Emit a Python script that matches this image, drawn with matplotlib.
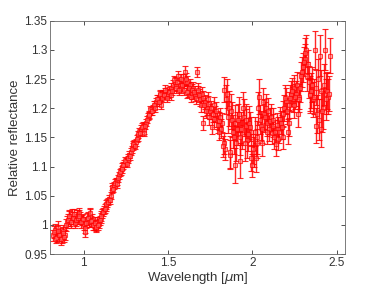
import matplotlib
matplotlib.use("Agg")
import matplotlib.pyplot as plt
import numpy as np

plt.rcParams['font.family'] = ['Liberation Sans', 'DejaVu Sans']

wavelength = [
    0.82, 0.83, 0.84, 0.85, 0.86, 0.87, 0.88, 0.89, 0.90, 0.91,
    0.92, 0.93, 0.94, 0.95, 0.96, 0.97, 0.98, 0.99, 1.00, 1.01,
    1.02, 1.03, 1.04, 1.05, 1.06, 1.07, 1.08, 1.09, 1.10, 1.11,
    1.12, 1.13, 1.14, 1.15, 1.16, 1.17, 1.18, 1.19, 1.20, 1.21,
    1.22, 1.23, 1.24, 1.25, 1.26, 1.27, 1.28, 1.29, 1.30, 1.31,
    1.32, 1.33, 1.34, 1.35, 1.36, 1.37, 1.38, 1.39, 1.40, 1.41,
    1.42, 1.43, 1.44, 1.45, 1.46, 1.47, 1.48, 1.49, 1.50, 1.51,
    1.52, 1.53, 1.54, 1.55, 1.56, 1.57, 1.58, 1.59, 1.60, 1.61,
    1.62, 1.63, 1.64, 1.65, 1.66, 1.67, 1.68, 1.69, 1.70, 1.71,
    1.72, 1.73, 1.74, 1.75, 1.76, 1.77, 1.78, 1.79, 1.80, 1.81,
    1.82, 1.83, 1.84, 1.85, 1.86, 1.87, 1.88, 1.89, 1.90, 1.91,
    1.92, 1.93, 1.94, 1.95, 1.96, 1.97, 1.98, 1.99, 2.00, 2.01,
    2.02, 2.03, 2.04, 2.05, 2.06, 2.07, 2.08, 2.09, 2.10, 2.11,
    2.12, 2.13, 2.14, 2.15, 2.16, 2.17, 2.18, 2.19, 2.20, 2.21,
    2.22, 2.23, 2.24, 2.25, 2.26, 2.27, 2.28, 2.29, 2.30, 2.31,
    2.32, 2.33, 2.34, 2.35, 2.36, 2.37, 2.38, 2.39, 2.40, 2.41,
    2.42, 2.43, 2.44, 2.45, 2.46,
]

reflectance = [
    0.982, 0.992, 0.980, 0.995, 0.985, 0.978, 0.990, 0.983, 1.005, 1.012,
    1.008, 1.018, 1.010, 1.004, 1.015, 1.020, 1.012, 1.008, 1.002, 0.988,
    1.010, 1.005, 1.015, 1.008, 1.000, 0.998, 1.005, 1.002, 1.012, 1.020,
    1.025, 1.030, 1.038, 1.045, 1.050, 1.065, 1.068, 1.075, 1.075, 1.085,
    1.092, 1.100, 1.105, 1.108, 1.112, 1.120, 1.125, 1.135, 1.140, 1.142,
    1.150, 1.160, 1.165, 1.170, 1.162, 1.175, 1.185, 1.190, 1.195, 1.200,
    1.205, 1.210, 1.215, 1.222, 1.205, 1.225, 1.228, 1.222, 1.225, 1.230,
    1.235, 1.240, 1.245, 1.238, 1.255, 1.240, 1.235, 1.248, 1.262, 1.245,
    1.230, 1.240, 1.225, 1.235, 1.222, 1.262, 1.228, 1.215, 1.225, 1.175,
    1.210, 1.200, 1.215, 1.195, 1.168, 1.205, 1.190, 1.180, 1.160, 1.185,
    1.175, 1.140, 1.130, 1.225, 1.200, 1.120, 1.180, 1.150, 1.102, 1.165,
    1.190, 1.110, 1.155, 1.185, 1.170, 1.145, 1.175, 1.160, 1.102, 1.125,
    1.115, 1.150, 1.220, 1.170, 1.140, 1.190, 1.200, 1.175, 1.165, 1.185,
    1.170, 1.150, 1.138, 1.165, 1.160, 1.175, 1.150, 1.200, 1.212, 1.160,
    1.205, 1.225, 1.215, 1.235, 1.225, 1.190, 1.220, 1.255, 1.270, 1.285,
    1.300, 1.275, 1.225, 1.230, 1.215, 1.300, 1.170, 1.250, 1.290, 1.165,
    1.200, 1.300, 1.225, 1.220, 1.290,
]

error = [
    0.010, 0.010, 0.009, 0.011, 0.010, 0.009, 0.010, 0.009, 0.010, 0.011,
    0.010, 0.010, 0.009, 0.010, 0.010, 0.009, 0.010, 0.009, 0.010, 0.008,
    0.010, 0.009, 0.012, 0.010, 0.009, 0.009, 0.008, 0.008, 0.008, 0.008,
    0.007, 0.007, 0.007, 0.006, 0.006, 0.006, 0.006, 0.006, 0.006, 0.006,
    0.006, 0.006, 0.006, 0.006, 0.006, 0.006, 0.006, 0.006, 0.006, 0.006,
    0.006, 0.006, 0.006, 0.006, 0.006, 0.006, 0.006, 0.006, 0.006, 0.006,
    0.007, 0.007, 0.007, 0.007, 0.007, 0.007, 0.007, 0.007, 0.008, 0.008,
    0.008, 0.008, 0.008, 0.009, 0.009, 0.009, 0.009, 0.010, 0.010, 0.010,
    0.010, 0.010, 0.010, 0.010, 0.010, 0.008, 0.010, 0.011, 0.012, 0.012,
    0.012, 0.012, 0.013, 0.013, 0.013, 0.014, 0.014, 0.015, 0.015, 0.016,
    0.016, 0.018, 0.018, 0.025, 0.030, 0.025, 0.030, 0.028, 0.030, 0.028,
    0.030, 0.030, 0.025, 0.030, 0.028, 0.030, 0.028, 0.025, 0.020, 0.025,
    0.025, 0.028, 0.030, 0.025, 0.022, 0.025, 0.025, 0.022, 0.022, 0.022,
    0.020, 0.020, 0.020, 0.020, 0.020, 0.020, 0.020, 0.022, 0.022, 0.022,
    0.022, 0.022, 0.022, 0.022, 0.022, 0.022, 0.022, 0.025, 0.025, 0.025,
    0.025, 0.025, 0.030, 0.030, 0.030, 0.032, 0.030, 0.035, 0.035, 0.032,
    0.035, 0.035, 0.035, 0.030, 0.030,
]

wavelength_b = [
    0.825, 0.835, 0.845, 0.855, 0.865, 0.875, 0.885, 0.895, 0.905, 0.915,
    0.925, 0.935, 0.945, 0.955, 0.965, 0.975, 0.985, 0.995, 1.005, 1.015,
    1.025, 1.035, 1.045, 1.055, 1.065, 1.075, 1.085, 1.095, 1.105, 1.115,
    1.125, 1.135, 1.145, 1.155, 1.165, 1.175, 1.185, 1.195, 1.205, 1.215,
    1.225, 1.235, 1.245, 1.255, 1.265, 1.275, 1.285, 1.295, 1.305, 1.315,
    1.325, 1.335, 1.345, 1.355, 1.365, 1.375, 1.385, 1.395, 1.405, 1.415,
    1.425, 1.435, 1.445, 1.455, 1.465, 1.475, 1.485, 1.495, 1.505, 1.515,
    1.525, 1.535, 1.545, 1.555, 1.565, 1.575, 1.585, 1.595, 1.605, 1.615,
    1.625, 1.635, 1.645, 1.655, 1.665, 1.675, 1.685, 1.695, 1.705, 1.715,
    1.725, 1.735, 1.745, 1.755, 1.765, 1.775, 1.785, 1.795, 1.805, 1.815,
    1.825, 1.835, 1.845, 1.855, 1.865, 1.875, 1.885, 1.895, 1.905, 1.915,
    1.925, 1.935, 1.945, 1.955, 1.965, 1.975, 1.985, 1.995, 2.005, 2.015,
    2.025, 2.035, 2.045, 2.055, 2.065, 2.075, 2.085, 2.095, 2.105, 2.115,
    2.125, 2.135, 2.145, 2.155, 2.165, 2.175, 2.185, 2.195, 2.205, 2.215,
    2.225, 2.235, 2.245, 2.255, 2.265, 2.275, 2.285, 2.295, 2.305, 2.315,
    2.325, 2.335, 2.345, 2.355, 2.365, 2.375, 2.385, 2.395, 2.405, 2.415,
    2.425, 2.435, 2.445, 2.455,
]

reflectance_b = [
    0.988, 0.978, 0.990, 0.982, 0.975, 0.986, 0.980, 1.000, 1.008, 1.015,
    1.005, 1.012, 1.018, 1.008, 1.012, 1.016, 1.005, 1.010, 0.995, 1.004,
    1.012, 1.020, 1.006, 1.000, 1.004, 0.996, 1.000, 1.008, 1.015, 1.022,
    1.028, 1.035, 1.040, 1.042, 1.060, 1.062, 1.072, 1.070, 1.080, 1.090,
    1.095, 1.102, 1.110, 1.105, 1.115, 1.118, 1.130, 1.138, 1.136, 1.148,
    1.155, 1.158, 1.168, 1.158, 1.170, 1.180, 1.188, 1.198, 1.195, 1.205,
    1.200, 1.215, 1.210, 1.225, 1.218, 1.222, 1.232, 1.218, 1.228, 1.222,
    1.230, 1.248, 1.235, 1.245, 1.232, 1.250, 1.240, 1.232, 1.250, 1.228,
    1.235, 1.220, 1.232, 1.228, 1.218, 1.232, 1.222, 1.205, 1.218, 1.205,
    1.195, 1.208, 1.185, 1.200, 1.190, 1.182, 1.195, 1.172, 1.178, 1.165,
    1.135, 1.232, 1.215, 1.185, 1.125, 1.195, 1.160, 1.175, 1.140, 1.180,
    1.150, 1.165, 1.200, 1.140, 1.180, 1.155, 1.168, 1.115, 1.130, 1.160,
    1.140, 1.200, 1.180, 1.165, 1.210, 1.185, 1.160, 1.195, 1.178, 1.158,
    1.180, 1.160, 1.172, 1.148, 1.182, 1.168, 1.190, 1.218, 1.195, 1.175,
    1.218, 1.230, 1.205, 1.220, 1.240, 1.215, 1.235, 1.262, 1.280, 1.295,
    1.255, 1.245, 1.222, 1.240, 1.220, 1.235, 1.190, 1.180, 1.230, 1.195,
    1.240, 1.215, 1.230, 1.225,
]

error_b = [
    0.010, 0.009, 0.010, 0.010, 0.009, 0.010, 0.009, 0.010, 0.010, 0.010,
    0.010, 0.010, 0.009, 0.010, 0.010, 0.009, 0.010, 0.009, 0.009, 0.009,
    0.010, 0.009, 0.010, 0.009, 0.009, 0.008, 0.008, 0.008, 0.008, 0.007,
    0.007, 0.007, 0.006, 0.006, 0.006, 0.006, 0.006, 0.006, 0.006, 0.006,
    0.006, 0.006, 0.006, 0.006, 0.006, 0.006, 0.006, 0.006, 0.006, 0.006,
    0.006, 0.006, 0.006, 0.006, 0.006, 0.006, 0.006, 0.006, 0.006, 0.007,
    0.007, 0.007, 0.007, 0.007, 0.007, 0.007, 0.007, 0.008, 0.008, 0.008,
    0.008, 0.008, 0.009, 0.009, 0.009, 0.009, 0.010, 0.010, 0.010, 0.010,
    0.010, 0.010, 0.010, 0.010, 0.010, 0.011, 0.011, 0.012, 0.012, 0.012,
    0.012, 0.013, 0.013, 0.013, 0.014, 0.014, 0.015, 0.015, 0.016, 0.016,
    0.018, 0.022, 0.025, 0.028, 0.028, 0.030, 0.028, 0.030, 0.030, 0.028,
    0.030, 0.028, 0.028, 0.030, 0.028, 0.028, 0.025, 0.022, 0.025, 0.025,
    0.025, 0.028, 0.025, 0.025, 0.025, 0.025, 0.022, 0.022, 0.022, 0.020,
    0.020, 0.020, 0.020, 0.020, 0.020, 0.020, 0.022, 0.022, 0.022, 0.022,
    0.022, 0.022, 0.022, 0.022, 0.022, 0.022, 0.025, 0.025, 0.025, 0.025,
    0.025, 0.028, 0.030, 0.030, 0.030, 0.030, 0.032, 0.035, 0.035, 0.035,
    0.035, 0.035, 0.032, 0.030,
]

fig = plt.figure(figsize=(3.82, 2.86), dpi=100)
ax = fig.add_axes([50/382, 1 - 254/286, 295/382, 233.3/286])

style = dict(fmt='s', color='red', ecolor=(1, 0, 0, 0.85), elinewidth=1.0,
             capsize=2.2, capthick=1.0, markersize=3.2,
             markerfacecolor=(1, 0.5, 0.5, 0.5),
             markeredgecolor=(1, 0.0, 0.0, 0.7), markeredgewidth=0.8)
ax.errorbar(wavelength, reflectance, yerr=error, **style)
ax.errorbar(wavelength_b, reflectance_b, yerr=error_b, **style)

ax.set_xlim(0.8, 2.55)
ax.set_ylim(0.95, 1.35)
ax.set_xticks([1, 1.5, 2, 2.5])
ax.set_xticklabels(['1', '1.5', '2', '2.5'])
ax.set_yticks([0.95, 1.0, 1.05, 1.1, 1.15, 1.2, 1.25, 1.3, 1.35])
ax.set_yticklabels(['0.95', '1', '1.05', '1.1', '1.15', '1.2', '1.25', '1.3', '1.35'])
ax.tick_params(direction='in', top=True, right=True, length=3, width=0.6,
               labelsize=8.5, colors='#333333', pad=2)
for s in ax.spines.values():
    s.set_color('#666666')
    s.set_linewidth(0.6)
ax.set_xlabel(r'Wavelength [$\mu$m]', fontsize=9.5, color='#333333', labelpad=1)
ax.set_ylabel('Relative reflectance', fontsize=9.5, color='#333333', labelpad=2)

fig.savefig('out.png', dpi=100)
